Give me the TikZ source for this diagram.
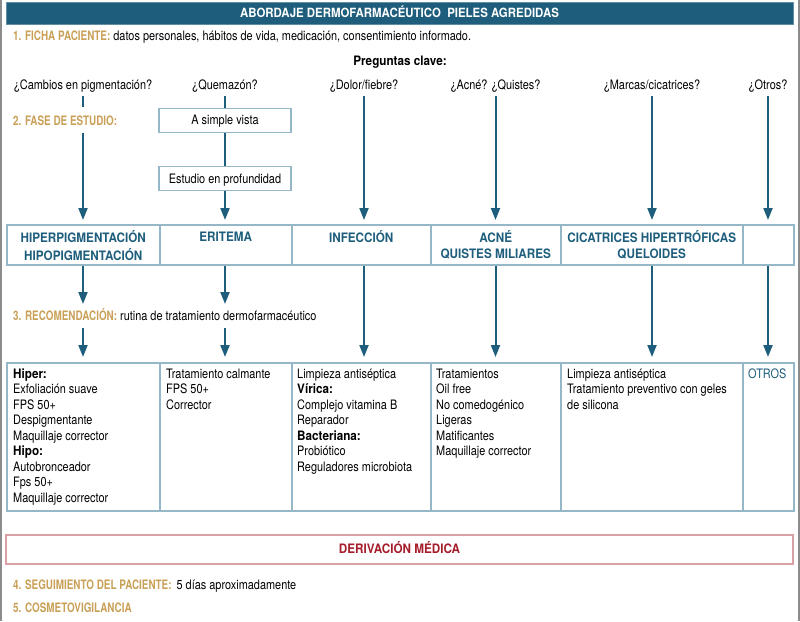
\documentclass[tikz,border=0pt]{standalone}
\usepackage{fontspec}
\setmainfont{TeX Gyre Heros}[FakeStretch=0.84, BoldFeatures={FakeStretch=0.9}]
\newfontfamily\goldfont{TeX Gyre Heros}[FakeStretch=0.76]
\usetikzlibrary{arrows.meta}

\definecolor{cTeal}{RGB}{30,94,124}
\definecolor{cGold}{RGB}{201,160,88}
\definecolor{cCell}{RGB}{150,183,200}
\definecolor{cPink}{RGB}{217,160,166}
\definecolor{cRed}{RGB}{165,28,42}
\definecolor{cFrame}{RGB}{140,140,140}

\newcommand{\gold}[1]{{\goldfont\bfseries\color{cGold}#1}}

\tikzset{
  every node/.style={inner sep=0pt, font=\fontsize{13}{15.5}\selectfont},
  cell/.style n args={2}{draw=cCell, line width=1.5pt, anchor=north west,
    minimum width=#1, minimum height=#2},
  fasebox/.style={draw=cCell, line width=1.2pt, minimum width=132pt,
    minimum height=24pt, text height=9pt, text depth=0pt},
  question/.style={anchor=base, inner sep=4pt},
  steplabel/.style={anchor=base west},
  cattext/.style={anchor=north, align=center, text=cTeal,
    font=\fontsize{13}{16}\selectfont\bfseries},
  treattext/.style={anchor=north west, align=left},
  link/.style={draw=cTeal, line width=2pt},
  flow/.style={link, -{Triangle[width=9pt,length=12pt]}, shorten >=4pt},
}

\begin{document}
\begin{tikzpicture}[x=1pt,y=-1pt]
\def\catTop{224}
\def\catH{40}
\def\trTop{362}
\def\trH{148}
\useasboundingbox (0,0) rectangle (800,621);
\draw[cFrame, line width=2pt] (1,0) -- (1,621);
\draw[cFrame, line width=2pt] (799,0) -- (799,621);

\node[fill=cTeal, draw=cTeal!70!white, line width=1pt, minimum width=787pt,
  minimum height=21.5pt, text=white, text height=9.3pt, text depth=1pt,
  font=\fontsize{12.7}{16}\selectfont\bfseries] (title) at (399.5,13.5)
  {ABORDAJE DERMOFARMACÉUTICO\ \ PIELES AGREDIDAS};

\node[steplabel] (ficha) at (13,40.7) {\gold{1. FICHA PACIENTE:} datos personales, hábitos de vida, medicación, consentimiento informado.};
\node[anchor=base, font=\fontsize{13}{15.5}\selectfont\bfseries] (preguntas) at (400,65) {Preguntas clave:};

\node[question] (q1) at (83,89) {¿Cambios en pigmentación?};
\node[question] (q2) at (225,89) {¿Quemazón?};
\node[question] (q3) at (364,89) {¿Dolor/fiebre?};
\node[question] (q4) at (495.5,89) {¿Acné? ¿Quistes?};
\node[question] (q5) at (652,89) {¿Marcas/cicatrices?};
\node[question] (q6) at (768,89) {¿Otros?};

\node[steplabel] (fase) at (13,125) {\gold{2. FASE DE ESTUDIO:}};
\node[fasebox] (vista) at (225,120.2) {A simple vista};
\node[fasebox] (fondo) at (225,178.7) {Estudio en profundidad};

\node[cell={153pt}{\catH pt}] (cat1) at (6,\catTop) {};
\node[cell={132pt}{\catH pt}] (cat2) at (159,\catTop) {};
\node[cell={139pt}{\catH pt}] (cat3) at (291,\catTop) {};
\node[cell={130pt}{\catH pt}] (cat4) at (430,\catTop) {};
\node[cell={182pt}{\catH pt}] (cat5) at (560,\catTop) {};
\node[cell={51pt}{\catH pt}] (cat6) at (742,\catTop) {};
\node[cattext] at ([yshift=-6.3pt]cat1.north) {\strut HIPERPIGMENTACIÓN\\HIPOPIGMENTACIÓN};
\node[cattext] at ([yshift=-6.3pt]cat2.north) {\strut ERITEMA};
\node[cattext] at ([yshift=-6.3pt]cat3.north) {\strut INFECCIÓN};
\node[cattext] at ([yshift=-6.3pt]cat4.north) {\strut ACNÉ\\QUISTES MILIARES};
\node[cattext] at ([yshift=-6.3pt]cat5.north) {\strut CICATRICES HIPERTRÓFICAS\\QUELOIDES};

\node[steplabel] (recom) at (13,320) {\gold{3. RECOMENDACIÓN:} rutina de tratamiento dermofarmacéutico};

\node[cell={153pt}{\trH pt}] (tr1) at (6,\trTop) {};
\node[cell={132pt}{\trH pt}] (tr2) at (159,\trTop) {};
\node[cell={139pt}{\trH pt}] (tr3) at (291,\trTop) {};
\node[cell={130pt}{\trH pt}] (tr4) at (430,\trTop) {};
\node[cell={182pt}{\trH pt}] (tr5) at (560,\trTop) {};
\node[cell={51pt}{\trH pt}] (tr6) at (742,\trTop) {};
\node[treattext] at ([shift={(7,5)}]tr1.north west) {\strut\textbf{Hiper:}\\Exfoliación suave\\FPS 50+\\Despigmentante\\Maquillaje corrector\\\textbf{Hipo:}\\Autobronceador\\Fps 50+\\Maquillaje corrector};
\node[treattext] at ([shift={(7,5)}]tr2.north west) {\strut Tratamiento calmante\\FPS 50+\\Corrector};
\node[treattext] at ([shift={(6,5)}]tr3.north west) {\strut Limpieza antiséptica\\\textbf{Vírica:}\\Complejo vitamina B\\Reparador\\\textbf{Bacteriana:}\\Probiótico\\Reguladores microbiota};
\node[treattext] at ([shift={(6,5)}]tr4.north west) {\strut Tratamientos\\Oil free\\No comedogénico\\Ligeras\\Matificantes\\Maquillaje corrector};
\node[treattext] at ([shift={(7,5)}]tr5.north west) {\strut Limpieza antiséptica\\Tratamiento preventivo con geles\\de silicona};
\node[treattext, text=cTeal] at ([shift={(6,5)}]tr6.north west) {\strut OTROS};

\node[draw=cPink, line width=1.5pt, minimum width=787pt, minimum height=29pt,
  text=cRed, text height=9.4pt, text depth=2pt,
  font=\fontsize{13}{16}\selectfont\bfseries] (deriv) at (399.5,549.5) {DERIVACIÓN MÉDICA};

\node[steplabel] (segui) at (13,589) {\gold{4. SEGUIMIENTO DEL PACIENTE:}\hspace{5pt}5 días aproximadamente};
\node[steplabel] (cosmeto) at (13,612.7) {\gold{5. COSMETOVIGILANCIA}};

\coordinate (f1a) at (83,107);
\coordinate (f1b) at (83,132.5);
\coordinate (r1a) at (83,304);
\coordinate (r1b) at (83,328);
\coordinate (r2a) at (225,304);
\coordinate (r2b) at (225,328);

\draw[link] (q1) -- (f1a);
\draw[flow] (f1b) -- (f1b |- cat1.north);
\draw[link] (q2) -- (vista);
\draw[link] (vista) -- (fondo);
\draw[flow] (fondo) -- (fondo |- cat2.north);
\draw[flow] (q3) -- (q3 |- cat3.north);
\draw[flow] (q4) -- (q4 |- cat4.north);
\draw[flow] (q5) -- (q5 |- cat5.north);
\draw[flow] (q6) -- (q6 |- cat6.north);

\draw[flow, shorten >=0pt] (cat1.south -| q1) -- (r1a);
\draw[flow, shorten >=5pt] (r1b) -- (r1b |- tr1.north);
\draw[flow, shorten >=0pt] (cat2.south -| q2) -- (r2a);
\draw[flow, shorten >=5pt] (r2b) -- (r2b |- tr2.north);
\draw[flow, shorten >=5pt] (cat3.south -| q3) -- (tr3.north -| q3);
\draw[flow, shorten >=5pt] (cat4.south -| q4) -- (tr4.north -| q4);
\draw[flow, shorten >=5pt] (cat5.south -| q5) -- (tr5.north -| q5);
\draw[flow, shorten >=5pt] (cat6.south -| q6) -- (tr6.north -| q6);
\end{tikzpicture}
\end{document}
